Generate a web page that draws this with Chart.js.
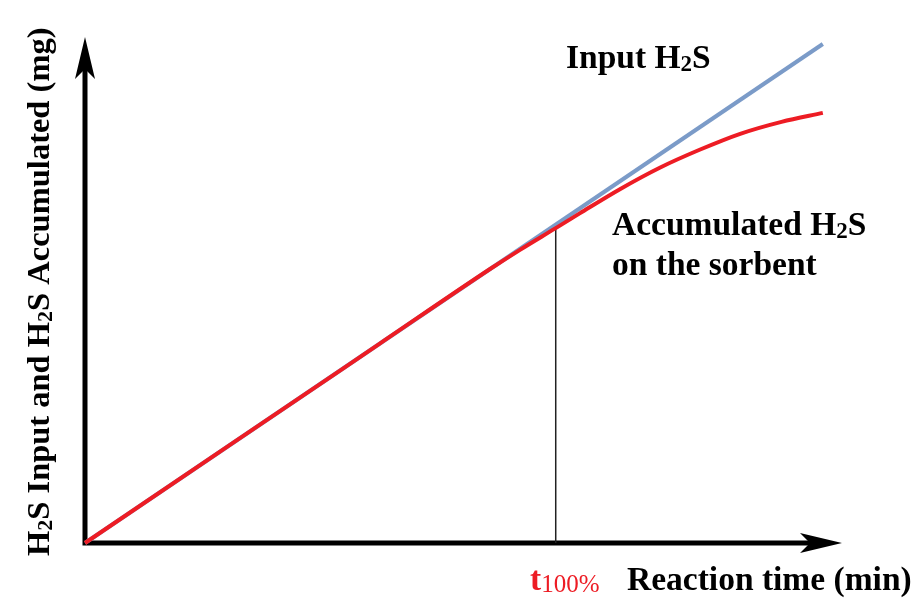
<!DOCTYPE html>
<html>
<head>
<meta charset="utf-8">
<script src="https://cdn.jsdelivr.net/npm/chart.js@4"></script>
<style>
  html, body { margin: 0; padding: 0; background: #fff; }
  #wrap { width: 920px; height: 599px; position: relative; }
</style>
</head>
<body>
<div id="wrap"><canvas id="myChart"></canvas></div>
<script>
// datos (unidades arbitrarias, 0-100)
var inputTime = [0, 100];
var inputH2S = [0, 100];
var accTime = [0, 20, 40, 54.9, 58.9, 63.8, 67.1, 72.5, 77.9, 83.3, 88.8, 94.4, 100];
var accH2S = [0, 20, 40, 54.9, 58.7, 63.1, 66.1, 70.9, 75.2, 78.8, 82.0, 84.4, 86.2];
var t100 = 63.8;
var t100Level = 63.1;
var xMax = 102.6;
var yMax = 101.4;

var SERIF = '"Liberation Serif", "Times New Roman", serif';

function pts(xs, ys) {
  return xs.map(function (x, i) { return { x: x, y: ys[i] }; });
}

// texto con subindices: lista de trozos {t, size, bold, dy}
function richText(ctx, parts, x, y, color) {
  ctx.fillStyle = color;
  ctx.textBaseline = "alphabetic";
  ctx.textAlign = "left";
  parts.forEach(function (p) {
    ctx.font = (p.bold ? "bold " : "") + p.size + "px " + SERIF;
    ctx.fillText(p.t, x, y + (p.dy || 0));
    x += ctx.measureText(p.t).width;
  });
}

function h2s(size, bold) {
  return [
    { t: "H", size: size, bold: bold },
    { t: "2", size: Math.round(size * 0.68), bold: bold, dy: 3 },
    { t: "S", size: size, bold: bold },
  ];
}

function arrowHead(ctx, tipX, tipY, angle) {
  ctx.save();
  ctx.translate(tipX, tipY);
  ctx.rotate(angle);
  ctx.beginPath();
  ctx.moveTo(0, 0);
  ctx.lineTo(-42, -10);
  ctx.lineTo(-32, 0);
  ctx.lineTo(-42, 10);
  ctx.closePath();
  ctx.fill();
  ctx.restore();
}

// ejes con flechas (antes de las lineas)
var axesPlugin = {
  id: "axesArrows",
  beforeDatasetsDraw: function (chart) {
    var ctx = chart.ctx;
    var a = chart.chartArea;
    ctx.save();
    ctx.strokeStyle = "#000";
    ctx.fillStyle = "#000";
    ctx.lineWidth = 5;
    ctx.beginPath();
    ctx.moveTo(a.left, a.bottom + 2.5);
    ctx.lineTo(a.left, a.top + 20);
    ctx.moveTo(a.left - 2.5, a.bottom);
    ctx.lineTo(a.right - 20, a.bottom);
    ctx.stroke();
    arrowHead(ctx, a.left, a.top, -Math.PI / 2);
    arrowHead(ctx, a.right, a.bottom, 0);
    ctx.restore();
  },
};

// textos de la figura
var labelsPlugin = {
  id: "labels",
  afterDraw: function (chart) {
    var ctx = chart.ctx;
    var fs = 33.5;
    ctx.save();
    richText(ctx, [{ t: "Input ", size: fs, bold: true }].concat(h2s(fs, true)), 566, 68, "#000");
    richText(ctx, [{ t: "Accumulated ", size: fs, bold: true }].concat(h2s(fs, true)), 612, 235, "#000");
    richText(ctx, [{ t: "on the sorbent", size: fs, bold: true }], 612, 275, "#000");
    richText(ctx, [
      { t: "t", size: fs, bold: true },
      { t: "100%", size: 25, bold: false, dy: 2 },
    ], 530, 590, "rgb(237, 28, 36)");
    richText(ctx, [{ t: "Reaction time (min)", size: fs, bold: true }], 627, 590, "#000");

    ctx.translate(49, 556);
    ctx.rotate(-Math.PI / 2);
    richText(ctx, h2s(32.5, true)
      .concat([{ t: " Input and ", size: 32.5, bold: true }])
      .concat(h2s(32.5, true))
      .concat([{ t: " Accumulated (mg)", size: 32.5, bold: true }]), 0, 0, "#000");
    ctx.restore();
  },
};

var ctx = document.getElementById("myChart").getContext("2d");

var chart = new Chart(ctx, {
  type: "scatter",
  data: {
    datasets: [
      {
        label: "t100%",
        data: pts([t100, t100], [0, t100Level]),
        showLine: true,
        borderColor: "#222",
        borderWidth: 1.5,
        pointRadius: 0,
        order: 3,
      },
      {
        label: "Input H2S",
        data: pts(inputTime, inputH2S),
        showLine: true,
        borderColor: "rgb(123, 155, 200)",
        borderWidth: 4,
        pointRadius: 0,
        order: 2,
      },
      {
        label: "Accumulated H2S on the sorbent",
        data: pts(accTime, accH2S),
        showLine: true,
        borderColor: "rgb(237, 28, 36)",
        borderWidth: 4,
        pointRadius: 0,
        cubicInterpolationMode: "monotone",
        order: 1,
      },
    ],
  },
  options: {
    responsive: true,
    maintainAspectRatio: false,
    animation: false,
    layout: { padding: { left: 85, right: 78, top: 37, bottom: 56 } },
    plugins: { legend: { display: false }, tooltip: { enabled: false } },
    scales: {
      x: { type: "linear", min: 0, max: xMax, display: false },
      y: { type: "linear", min: 0, max: yMax, display: false },
    },
    clip: false,
  },
  plugins: [axesPlugin, labelsPlugin],
});
</script>
</body>
</html>
